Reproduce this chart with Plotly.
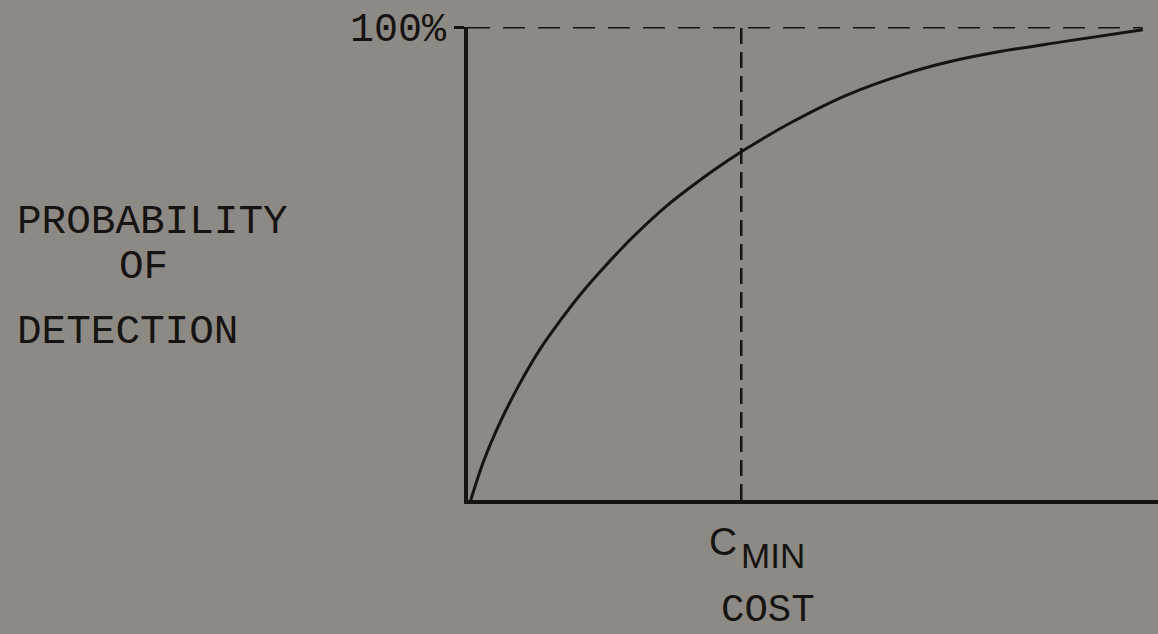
import plotly.graph_objects as go

# Data (cost in arbitrary units, probability in %)
cost = [0.04, 0.22, 0.42, 0.75, 1.04, 1.33, 1.62, 1.96, 2.39, 2.88, 3.36, 3.75, 3.99,
        4.23, 4.67, 5.49, 6.36, 6.99, 7.67, 8.58, 9.78]
prob = [0, 8.0, 15.0, 24.6, 31.8, 37.8, 43.3, 49.0, 55.6, 62.2, 67.6, 71.6, 73.9,
        76.0, 79.7, 85.6, 90.2, 92.7, 94.7, 96.8, 99.4]
C_MIN = 3.96
P_MAX = 100
COST_MAX = 10
ytick_vals = [100]
ytick_text = ["100%"]

BG = "rgb(141,138,133)"
INK = "rgb(22,20,18)"
MONO = "Courier New, Liberation Mono, monospace"
SANS = "Liberation Sans, Arial, sans-serif"

fig = go.Figure()

# dashed reference lines
fig.add_trace(go.Scatter(x=[0, cost[-1]], y=[P_MAX, P_MAX], mode="lines",
                         line=dict(color=INK, width=3, dash="22px,13px"),
                         hoverinfo="skip", showlegend=False, cliponaxis=False))
fig.add_trace(go.Scatter(x=[C_MIN, C_MIN], y=[0, P_MAX], mode="lines",
                         line=dict(color=INK, width=2.5, dash="16px,8px"),
                         hoverinfo="skip", showlegend=False, cliponaxis=False))
# curve
fig.add_trace(go.Scatter(x=cost, y=prob, mode="lines",
                         line=dict(color=INK, width=3, shape="spline", smoothing=1),
                         showlegend=False, cliponaxis=False))

fig.update_layout(
    width=1158, height=634,
    margin=dict(l=468, r=0, t=27, b=134),
    paper_bgcolor=BG, plot_bgcolor=BG,
    xaxis=dict(range=[0, COST_MAX], showgrid=False, zeroline=False, showticklabels=False,
               showline=True, linecolor=INK, linewidth=4, ticks=""),
    yaxis=dict(range=[0, P_MAX], showgrid=False, zeroline=False,
               showline=True, linecolor=INK, linewidth=4,
               tickvals=ytick_vals, ticktext=ytick_text, ticks="outside",
               ticklen=10, tickwidth=3, tickcolor=INK,
               tickfont=dict(family=MONO, size=40, color=INK)),
    showlegend=False,
)

ann = [
    dict(text="PROBABILITY", x=15, y=222, xanchor="left", size=41),
    dict(text="OF", x=117, y=267, xanchor="left", size=41),
    dict(text="DETECTION", x=15, y=332, xanchor="left", size=41),
    dict(text="COST", x=768, y=611, xanchor="center", size=39),
]
for a in ann:
    fig.add_annotation(text=a["text"], xref="paper", yref="paper",
                       x=(a["x"] - 468) / 690, y=(500 - a["y"]) / 473,
                       xanchor=a["xanchor"], yanchor="middle", showarrow=False,
                       font=dict(family=MONO, size=a["size"], color=INK))

fig.add_annotation(text="C", x=C_MIN, xref="x", y=(500 - 541) / 473, yref="paper",
                   xanchor="right", yanchor="middle", xshift=-2, showarrow=False,
                   font=dict(family=SANS, size=39, color=INK))
fig.add_annotation(text="MIN", x=C_MIN, xref="x", y=(500 - 555) / 473, yref="paper",
                   xanchor="left", yanchor="middle", xshift=-2, showarrow=False,
                   font=dict(family=SANS, size=35, color=INK))

fig.write_html("out.html",
               config={"displayModeBar": False},
               post_script="document.body.style.margin='0';"
                           "document.body.style.background='rgb(141,138,133)';")
